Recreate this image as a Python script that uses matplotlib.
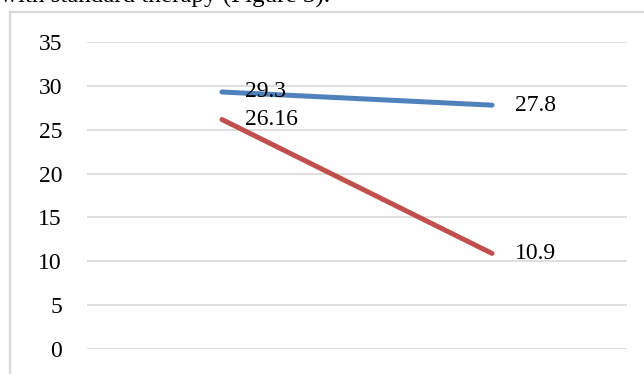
import matplotlib.pyplot as plt
from matplotlib.lines import Line2D

# two time points, two groups
timepoints = ["baseline", "follow-up"]
blue_vals = [29.3, 27.8]
red_vals = [26.16, 10.9]
yticks = [0, 5, 10, 15, 20, 25, 30, 35]

W, H = 644, 374
fig = plt.figure(figsize=(W / 100, H / 100), dpi=100)
plt.rcParams['font.family'] = ['Liberation Serif', 'DejaVu Serif']

# caption line cut off above the chart box
fig.text(0 / W, 1 - 3 / H, "with standard therapy (Figure 3).", fontsize=18,
         ha='left', va='baseline', color='black')

# chart frame (left and top edges only fall inside the image)
fig.add_artist(Line2D([10 / W, 10 / W], [0, 1 - 12 / H], transform=fig.transFigure,
                      color='#D9D9D9', lw=1.6))
fig.add_artist(Line2D([10 / W, 1], [1 - 12 / H, 1 - 12 / H], transform=fig.transFigure,
                      color='#D9D9D9', lw=1.6))

ax = fig.add_axes([87 / W, 1 - 349 / H, 540 / W, 307 / H])
x = list(range(len(timepoints)))
ax.plot(x, blue_vals, color='#4F81BD', lw=3.6, solid_capstyle='round', zorder=3)
ax.plot(x, red_vals, color='#C0504D', lw=3.6, solid_capstyle='round', zorder=3)

for vals in (blue_vals, red_vals):
    for xi, v in zip(x, vals):
        ax.annotate(f"{v:g}", (xi, v), xytext=(16.5, 0), textcoords='offset points',
                    ha='left', va='center', fontsize=17, zorder=4)

ax.set_xlim(-0.5, 1.5)
ax.set_ylim(0, 35)
ax.set_yticks(yticks)
ax.set_yticklabels([str(t) for t in yticks], fontsize=17)
ax.set_xticks([])
ax.tick_params(axis='y', length=0, pad=18)
ax.grid(axis='y', color='#D9D9D9', lw=1.2)
ax.set_axisbelow(True)
for s in ax.spines.values():
    s.set_visible(False)

fig.savefig("out.png", dpi=100)
